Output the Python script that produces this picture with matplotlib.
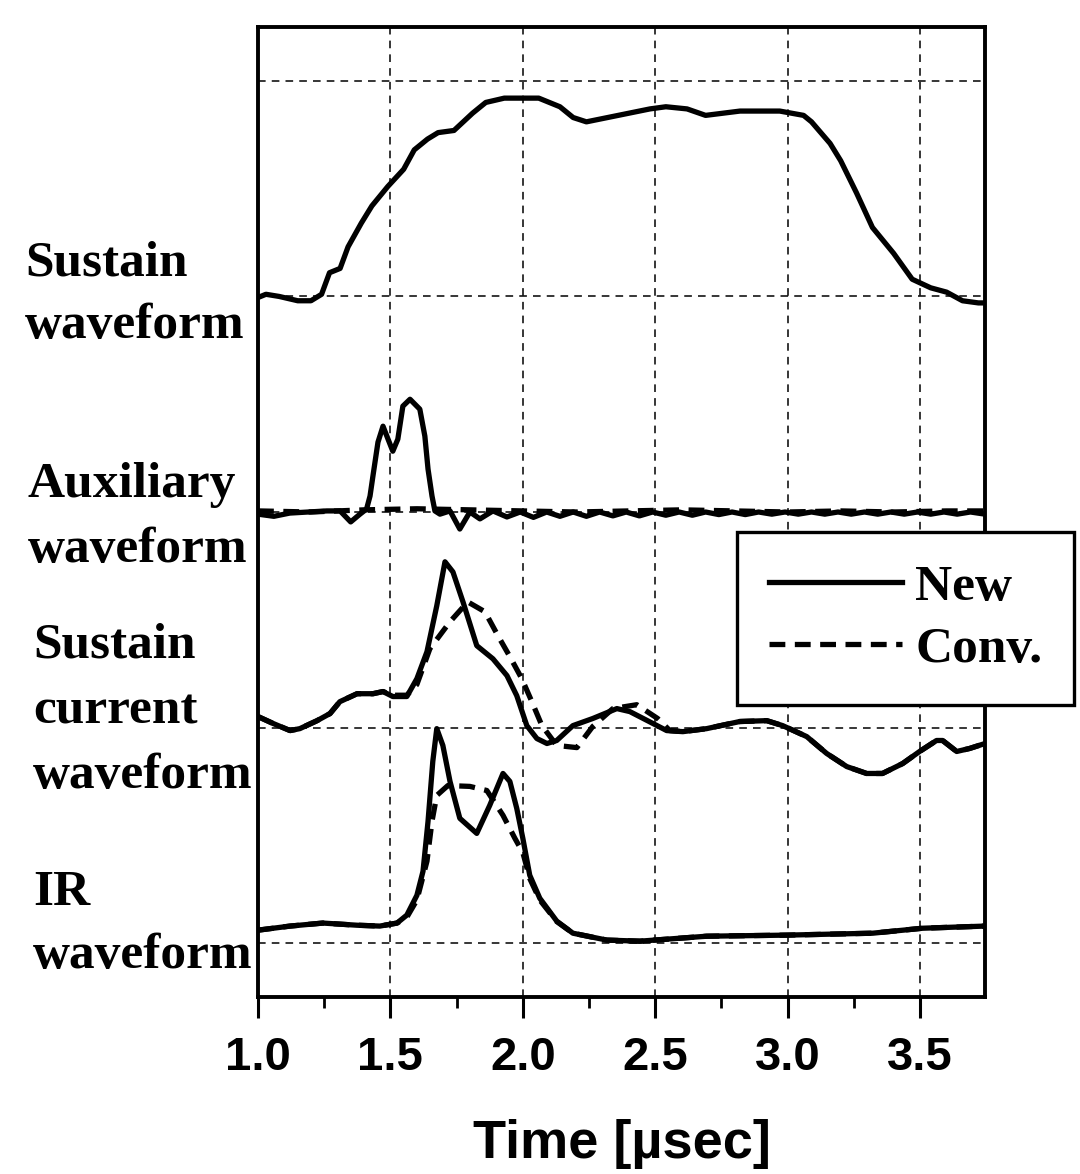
import matplotlib
matplotlib.use("Agg")
import matplotlib.pyplot as plt
from matplotlib.ticker import MultipleLocator

# waveform baselines (stacked traces)
offsets = [3, 2, 1, 0]
grid_levels = [0, 1, 2, 3, 4]
labels = [["Sustain", "waveform"],
          ["Auxiliary", "waveform"],
          ["Sustain", "current", "waveform"],
          ["IR", "waveform"]]
legend_labels = ["New", "Conv."]
xticks = [1.0, 1.5, 2.0, 2.5, 3.0, 3.5]

# sustain waveform
sus_t = [1.00, 1.03, 1.08, 1.15, 1.20, 1.24, 1.27, 1.31, 1.34, 1.39,
         1.43, 1.49, 1.55, 1.59, 1.64, 1.68, 1.74, 1.81, 1.86, 1.93,
         2.06, 2.14, 2.19, 2.24, 2.32, 2.48, 2.54, 2.62, 2.69, 2.82,
         2.97, 3.06, 3.09, 3.16, 3.20, 3.26, 3.32, 3.40, 3.47, 3.54,
         3.60, 3.66, 3.72, 3.745]
sus_v = [-0.005, 0.01, 0.0, -0.02, -0.02, 0.01, 0.11, 0.13, 0.23, 0.34,
         0.42, 0.51, 0.59, 0.68, 0.73, 0.76, 0.77, 0.85, 0.90, 0.92,
         0.92, 0.88, 0.83, 0.81, 0.83, 0.87, 0.88, 0.87, 0.84, 0.86,
         0.86, 0.84, 0.81, 0.71, 0.63, 0.48, 0.32, 0.20, 0.08, 0.04,
         0.02, -0.02, -0.03, -0.03]

# auxiliary waveform
aux_new_t = [1.00, 1.06, 1.12, 1.19, 1.26, 1.31, 1.35, 1.385, 1.41, 1.423,
             1.434, 1.453, 1.472, 1.491, 1.509, 1.528, 1.547, 1.574, 1.611, 1.63,
             1.642, 1.657, 1.668, 1.687, 1.725, 1.762, 1.80, 1.838, 1.887, 1.94,
             1.99, 2.04, 2.09, 2.14, 2.19, 2.24, 2.29, 2.34, 2.39, 2.44,
             2.49, 2.54, 2.59, 2.64, 2.69, 2.74, 2.79, 2.84, 2.89, 2.94,
             2.99, 3.04, 3.09, 3.14, 3.19, 3.24, 3.29, 3.34, 3.39, 3.44,
             3.49, 3.54, 3.59, 3.64, 3.69, 3.745]
aux_new_v = [-0.01, -0.02, -0.005, 0.0, 0.005, 0.005, -0.046, -0.01, 0.014, 0.074,
             0.167, 0.324, 0.398, 0.338, 0.282, 0.338, 0.491, 0.523, 0.477, 0.352,
             0.199, 0.074, 0.005, -0.01, 0.005, -0.079, 0.0, -0.032, 0.005, -0.023,
             0.0, -0.025, 0.0, -0.02, 0.0, -0.02, 0.0, -0.018, 0.0, -0.018,
             0.0, -0.015, 0.0, -0.015, 0.0, -0.012, 0.0, -0.012, 0.0, -0.01,
             0.0, -0.01, 0.0, -0.01, 0.0, -0.01, 0.0, -0.01, 0.0, -0.01,
             0.0, -0.01, 0.0, -0.01, 0.0, -0.01]
aux_conv_t = [1.0, 1.2, 1.4, 1.6, 1.8, 2.0, 2.2, 2.4, 2.6, 2.8, 3.0, 3.2, 3.4, 3.6, 3.745]
aux_conv_v = [0.005, 0.0, 0.01, 0.015, 0.01, 0.005, 0.0, 0.005, 0.01, 0.005, 0.0, 0.005, 0.0, 0.005, 0.005]

# sustain current waveform
cur_new_t = [1.0, 1.057, 1.121, 1.158, 1.223, 1.272, 1.309, 1.374, 1.434, 1.472,
             1.509, 1.562, 1.600, 1.638, 1.675, 1.706, 1.736, 1.774, 1.826, 1.887,
             1.940, 1.977, 2.015, 2.053, 2.091, 2.128, 2.189, 2.264, 2.355, 2.404,
             2.491, 2.543, 2.604, 2.694, 2.819, 2.921, 2.981, 3.072, 3.147, 3.223,
             3.298, 3.358, 3.434, 3.498, 3.562, 3.585, 3.638, 3.687, 3.745]
cur_new_v = [0.051, 0.019, -0.014, -0.005, 0.032, 0.065, 0.12, 0.157, 0.157, 0.167,
             0.144, 0.144, 0.227, 0.352, 0.565, 0.769, 0.722, 0.583, 0.38, 0.319,
             0.241, 0.148, 0.009, -0.051, -0.074, -0.06, 0.009, 0.042, 0.088, 0.074,
             0.019, -0.014, -0.019, -0.005, 0.028, 0.032, 0.009, -0.042, -0.12, -0.181,
             -0.213, -0.213, -0.167, -0.111, -0.06, -0.06, -0.111, -0.097, -0.074]
cur_conv_t = [1.0, 1.057, 1.121, 1.158, 1.223, 1.272, 1.309, 1.374, 1.434, 1.472,
              1.509, 1.562, 1.600, 1.649, 1.725, 1.792, 1.857, 1.906, 1.951, 1.996,
              2.034, 2.072, 2.128, 2.204, 2.264, 2.340, 2.430, 2.509, 2.555, 2.604,
              2.694, 2.819, 2.921, 2.981, 3.072, 3.147, 3.223, 3.298, 3.358, 3.434,
              3.498, 3.562, 3.585, 3.638, 3.687, 3.745]
cur_conv_v = [0.051, 0.019, -0.014, -0.005, 0.032, 0.065, 0.12, 0.157, 0.157, 0.167,
              0.15, 0.15, 0.2, 0.366, 0.491, 0.583, 0.537, 0.426, 0.329, 0.227,
              0.12, 0.009, -0.083, -0.093, 0.005, 0.088, 0.106, 0.042, -0.014, -0.019,
              -0.005, 0.028, 0.032, 0.009, -0.042, -0.12, -0.181, -0.213, -0.213, -0.167,
              -0.111, -0.06, -0.06, -0.111, -0.097, -0.074]

# IR waveform
ir_new_t = [1.0, 1.121, 1.245, 1.374, 1.460, 1.525, 1.562, 1.600, 1.623, 1.642,
            1.660, 1.675, 1.698, 1.725, 1.762, 1.826, 1.875, 1.925, 1.951, 1.977,
            2.0, 2.026, 2.064, 2.128, 2.189, 2.317, 2.442, 2.694, 2.996, 3.321,
            3.509, 3.745]
ir_new_v = [0.06, 0.079, 0.093, 0.083, 0.079, 0.093, 0.13, 0.222, 0.333, 0.565,
            0.843, 0.995, 0.917, 0.75, 0.579, 0.509, 0.639, 0.787, 0.75, 0.625,
            0.486, 0.315, 0.208, 0.102, 0.046, 0.014, 0.009, 0.032, 0.037, 0.046,
            0.069, 0.079]
ir_conv_t = [1.0, 1.121, 1.245, 1.374, 1.460, 1.525, 1.562, 1.600, 1.638, 1.657,
             1.675, 1.717, 1.800, 1.864, 1.925, 1.970, 2.0, 2.026, 2.064, 2.128,
             2.189, 2.317, 2.442, 2.694, 2.996, 3.321, 3.509, 3.745]
ir_conv_v = [0.06, 0.079, 0.093, 0.083, 0.079, 0.093, 0.12, 0.2, 0.38, 0.565,
             0.685, 0.731, 0.727, 0.708, 0.593, 0.486, 0.42, 0.3, 0.2, 0.1,
             0.046, 0.014, 0.009, 0.032, 0.037, 0.046, 0.069, 0.079]

W, H = 1080, 1174
SERIF = ["Liberation Serif", "DejaVu Serif"]
SANS = ["Liberation Sans", "DejaVu Sans"]
DASH = (0, (3.0, 1.8))


def main():
    fig = plt.figure(figsize=(W / 100, H / 100), dpi=100)
    ax = fig.add_axes([258 / W, 1 - 997 / H, (985 - 258) / W, (997 - 27) / H])

    lw = 3.8
    ax.plot(sus_t, [v + offsets[0] for v in sus_v], color="black", lw=lw,
            solid_joinstyle="round", label=legend_labels[0])
    ax.plot(aux_conv_t, [v + offsets[1] for v in aux_conv_v], color="black", lw=lw,
            linestyle=DASH, label=legend_labels[1])
    ax.plot(aux_new_t, [v + offsets[1] for v in aux_new_v], color="black", lw=lw,
            solid_joinstyle="round")
    ax.plot(cur_conv_t, [v + offsets[2] for v in cur_conv_v], color="black", lw=lw,
            linestyle=DASH)
    ax.plot(cur_new_t, [v + offsets[2] for v in cur_new_v], color="black", lw=lw,
            solid_joinstyle="round")
    ax.plot(ir_conv_t, [v + offsets[3] for v in ir_conv_v], color="black", lw=lw,
            linestyle=DASH)
    ax.plot(ir_new_t, [v + offsets[3] for v in ir_new_v], color="black", lw=lw,
            solid_joinstyle="round")

    ax.set_xlim(1.0, 3.745)
    ax.set_ylim(-0.25, 4.25)
    ax.set_xticks(xticks)
    ax.set_xticklabels(["%.1f" % t for t in xticks])
    ax.xaxis.set_minor_locator(MultipleLocator(0.25))
    ax.set_yticks(grid_levels)
    ax.tick_params(axis="y", which="both", left=False, labelleft=False)
    ax.tick_params(axis="x", which="major", direction="out", length=15, width=2.2, pad=13)
    ax.tick_params(axis="x", which="minor", direction="out", length=8, width=2.0)
    for lab in ax.get_xticklabels():
        lab.set_family(SANS)
        lab.set_fontsize(34)
        lab.set_fontweight("bold")

    ax.grid(True, which="major", color="black", lw=1.1, linestyle=(0, (5, 4)))
    ax.set_axisbelow(True)
    for sp in ax.spines.values():
        sp.set_linewidth(2.8)

    ax.set_xlabel("Time [\u00b5sec]", family=SANS, fontsize=39, fontweight="bold",
                  labelpad=28)

    # left side labels, baselines in pixels from top
    label_x = [25, 28, 33, 33]
    label_base = [[275, 338], [497, 562], [658, 723, 788], [905, 968]]
    for lines, x0, bases in zip(labels, label_x, label_base):
        for line, b in zip(lines, bases):
            fig.text(x0 / W, 1 - b / H, line, family=SERIF, fontsize=37,
                     fontweight="bold", ha="left", va="baseline")

    leg = ax.legend(loc="upper left", bbox_to_anchor=(737 / W, 1 - 532 / H),
                    bbox_transform=fig.transFigure, borderaxespad=0,
                    prop={"family": SERIF, "size": 37, "weight": "bold"},
                    handlelength=2.6, handletextpad=0.25, borderpad=0.62,
                    labelspacing=0.3, fancybox=False, framealpha=1,
                    edgecolor="black")
    leg.get_frame().set_linewidth(2.4)

    fig.savefig("out.png", dpi=100)


if __name__ == "__main__":
    main()
